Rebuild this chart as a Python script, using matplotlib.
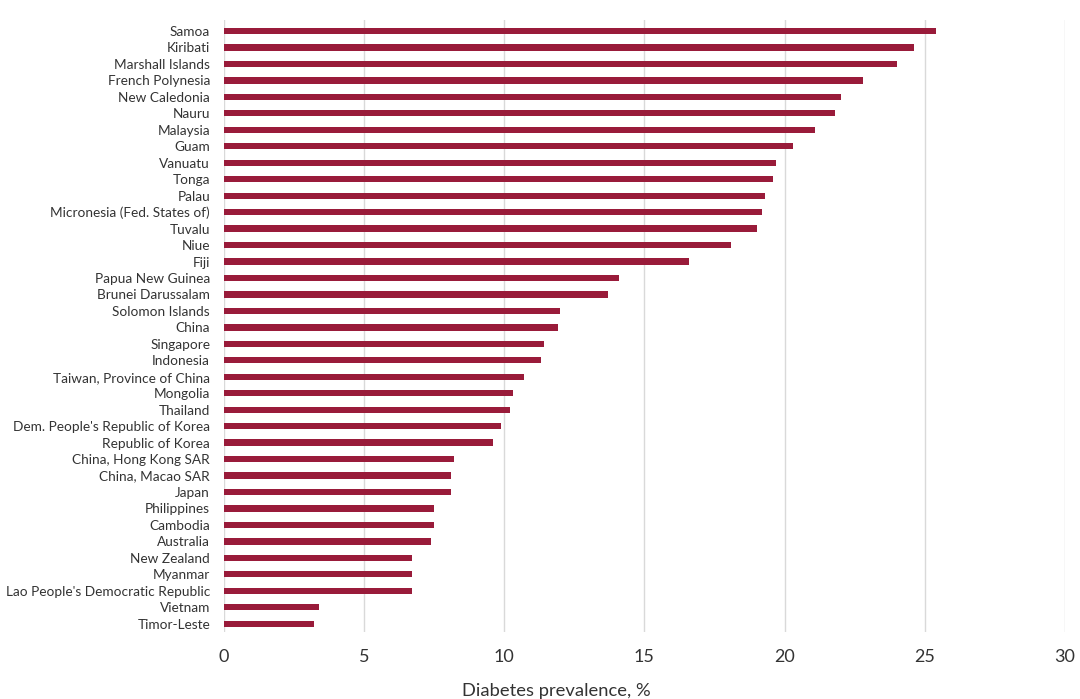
import matplotlib
matplotlib.use("Agg")
import matplotlib.pyplot as plt
import numpy as np

countries = [
    "Samoa", "Kiribati", "Marshall Islands", "French Polynesia", "New Caledonia",
    "Nauru", "Malaysia", "Guam", "Vanuatu", "Tonga", "Palau",
    "Micronesia (Fed. States of)", "Tuvalu", "Niue", "Fiji", "Papua New Guinea",
    "Brunei Darussalam", "Solomon Islands", "China", "Singapore", "Indonesia",
    "Taiwan, Province of China", "Mongolia", "Thailand",
    "Dem. People's Republic of Korea", "Republic of Korea", "China, Hong Kong SAR",
    "China, Macao SAR", "Japan", "Philippines", "Cambodia", "Australia",
    "New Zealand", "Myanmar", "Lao People's Democratic Republic", "Vietnam",
    "Timor-Leste",
]
prevalence = [
    25.4, 24.6, 24.0, 22.8, 22.0,
    21.8, 21.1, 20.3, 19.7, 19.6, 19.3,
    19.2, 19.0, 18.1, 16.6, 14.1,
    13.7, 12.0, 11.9, 11.4, 11.3,
    10.7, 10.3, 10.2,
    9.9, 9.6, 8.2,
    8.1, 8.1, 7.5, 7.5, 7.4,
    6.7, 6.7, 6.7, 3.4,
    3.2,
]
xticks = [0, 5, 10, 15, 20, 25, 30]

BAR = "#991b3a"
TEXT = "#333333"

plt.rcParams["font.family"] = ["Lato", "DejaVu Sans"]

fig = plt.figure(figsize=(10.8, 6.99), dpi=100)
ax = fig.add_axes([0.2074, 0.0959, 0.7786, 0.8755])

y = np.arange(len(countries))
ax.barh(y, prevalence, height=0.38, color=BAR, zorder=3)

ax.set_xlim(0, 30)
ax.set_ylim(len(countries) - 0.5, -0.67)
ax.set_xticks(xticks)
ax.set_yticks(y)
ax.set_yticklabels(countries)
ax.tick_params(axis="y", length=0, pad=10, labelsize=9.8, labelcolor=TEXT)
ax.tick_params(axis="x", length=0, pad=12, labelsize=13, labelcolor=TEXT)
ax.grid(axis="x", color="#d9d9d9", lw=1, zorder=0)
for s in ax.spines.values():
    s.set_visible(False)

ax.set_xlabel("Diabetes prevalence, %", fontsize=13.2, color=TEXT, labelpad=9)
ax.xaxis.set_label_coords(0.395, -0.083)

fig.savefig("out.png", dpi=100)
